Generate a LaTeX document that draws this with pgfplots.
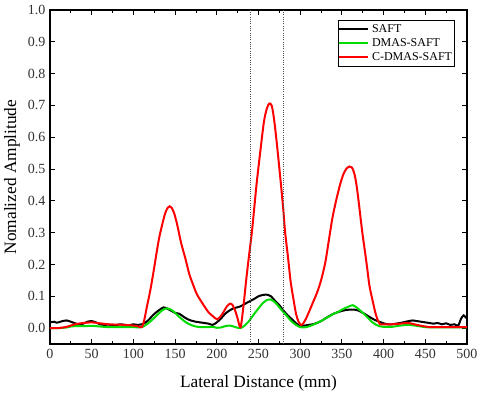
\documentclass[border=0pt]{standalone}
\usepackage{fontspec}
\setmainfont{Liberation Serif}
\usepackage{pgfplots}
\pgfplotsset{compat=1.18}
\definecolor{cgreen}{RGB}{0,220,0}
\begin{document}
\begin{tikzpicture}
\useasboundingbox (0,0) rectangle (360pt,297.75pt);
\begin{axis}[
  at={(37.5pt,39.75pt)}, anchor=south west,
  scale only axis, width=312.75pt, height=250.5pt,
  xmin=0, xmax=500, ymin=-0.05, ymax=1.0,
  xtick={0,50,...,500}, minor x tick num=1,
  ytick={0,0.1,...,1.0},
  tick align=inside, major tick length=3.5pt, minor tick length=2.2pt,
  xticklabel style={/pgf/number format/fixed},
  yticklabel style={/pgf/number format/fixed,/pgf/number format/fixed zerofill,/pgf/number format/precision=1},
  /pgf/number format/assume math mode=true,
  tick label style={font=\fontsize{10.5}{12}\selectfont, color=black!80},
  xlabel={Lateral Distance (mm)},
  ylabel={Nomalized Amplitude},
  label style={font=\fontsize{13}{15}\selectfont},
  xlabel style={at={(axis description cs:0.5,0)}, anchor=center, yshift=-29.5pt},
  ylabel style={at={(axis description cs:0,0.5)}, anchor=center, rotate=0, yshift=28.5pt},
  legend style={at={(axis description cs:1,1)}, anchor=north east, xshift=-9pt, yshift=-7.5pt,
    draw=black, font=\fontsize{9}{10}\selectfont, inner xsep=0pt, inner ysep=1pt, row sep=-1pt},
  legend cell align=left,
  legend image code/.code={\draw[#1] (0pt,0pt) -- (22pt,0pt);},
  axis line style={line width=0.8pt},
  every tick/.style={black, line width=0.6pt},
]
\addplot[black, line width=1.5pt, smooth, tension=0.4] coordinates {
(0,0.018) (5,0.02) (8,0.017) (10,0.018) (15,0.022) (20,0.024) (25,0.02) (30,0.015) (35,0.012) (40,0.014)
(45,0.02) (50,0.022) (55,0.018) (60,0.012) (65,0.01) (70,0.011) (75,0.009) (80,0.01) (85,0.012) (90,0.01)
(95,0.009) (100,0.012) (105,0.01) (110,0.012) (113,0.015) (118,0.025) (124,0.042) (130,0.055) (136,0.065) (140,0.062)
(145,0.055) (150,0.048) (155,0.045) (160,0.036) (165,0.028) (170,0.023) (175,0.02) (180,0.018) (185,0.016) (190,0.014)
(195,0.01) (200,0.018) (205,0.03) (210,0.045) (215,0.055) (220,0.062) (228,0.068) (235,0.078) (240,0.085) (245,0.092)
(250,0.1) (255,0.104) (260,0.105) (265,0.1) (270,0.085) (275,0.072) (280,0.055) (285,0.04) (290,0.028) (295,0.015)
(300,0.007) (305,0.008) (310,0.01) (315,0.012) (320,0.016) (325,0.022) (330,0.03) (335,0.038) (340,0.045) (345,0.05)
(350,0.054) (355,0.057) (360,0.058) (365,0.058) (370,0.055) (375,0.048) (380,0.04) (385,0.032) (390,0.025) (395,0.02)
(400,0.015) (405,0.012) (410,0.012) (415,0.014) (420,0.016) (425,0.019) (430,0.022) (435,0.024) (440,0.022) (445,0.02)
(450,0.018) (455,0.016) (460,0.014) (465,0.016) (470,0.012) (475,0.015) (480,0.01) (485,0.012) (488,0.008) (490,0.01)
(493,0.03) (496,0.04) (498,0.035) (500,0.03)
};
\addlegendentry{SAFT}
\addplot[cgreen, line width=1.5pt, smooth, tension=0.4] coordinates {
(0,0.0) (10,0.0) (20,0.002) (25,0.005) (30,0.006) (40,0.006) (50,0.007) (60,0.005) (70,0.003) (80,0.003)
(90,0.003) (100,0.003) (108,0.002) (112,0.005) (116,0.012) (120,0.02) (125,0.032) (130,0.045) (135,0.057) (140,0.062)
(145,0.058) (150,0.048) (155,0.035) (160,0.024) (165,0.015) (170,0.009) (175,0.005) (180,0.003) (190,0.003) (195,0.004)
(200,0.001) (205,0.002) (210,0.006) (215,0.008) (220,0.005) (225,0.001) (228,0.0) (232,0.005) (238,0.02) (245,0.045)
(250,0.062) (255,0.078) (260,0.088) (264,0.09) (268,0.085) (272,0.075) (276,0.062) (280,0.05) (285,0.035) (290,0.02)
(295,0.01) (300,0.003) (305,0.002) (310,0.005) (315,0.01) (320,0.016) (325,0.022) (330,0.03) (335,0.037) (340,0.045)
(345,0.05) (350,0.058) (355,0.064) (360,0.07) (363,0.072) (367,0.066) (370,0.06) (375,0.048) (380,0.035) (385,0.022)
(390,0.012) (395,0.006) (400,0.004) (410,0.004) (420,0.008) (430,0.01) (440,0.007) (450,0.003) (460,0.002) (500,0.002)
};
\addlegendentry{DMAS-SAFT}
\addplot[red, line width=1.5pt, smooth, tension=0.5] coordinates {
(0,0.0) (10,0.0) (20,0.004) (30,0.012) (40,0.016) (50,0.018) (60,0.015) (70,0.012) (80,0.011) (90,0.01)
(100,0.008) (105,0.006) (110,0.003) (113,0.025) (116,0.065) (120,0.115) (124,0.175) (128,0.24) (131,0.285) (134.5,0.325)
(138,0.36) (141,0.378) (143.5,0.383) (146,0.378) (149,0.36) (152.7,0.323) (157,0.27) (162.7,0.215) (167,0.17) (171.8,0.135)
(176,0.107) (181.8,0.082) (186,0.065) (190,0.05) (195,0.038) (200,0.028) (204,0.035) (208,0.05) (212,0.068) (216,0.077)
(219,0.072) (222,0.055) (225,0.03) (228.5,0.003) (232,0.07) (235,0.145) (238.5,0.225) (242,0.3) (245,0.38) (248,0.46)
(252.6,0.565) (256.6,0.65) (260,0.69) (263,0.706) (266,0.698) (269,0.65) (272.6,0.565) (276.6,0.46) (279.5,0.38) (282,0.30)
(285.5,0.22) (288.6,0.145) (292,0.09) (295,0.045) (298,0.02) (301,0.01) (303,0.012) (307,0.03) (312,0.06) (316,0.085)
(320,0.11) (325,0.15) (330,0.205) (334,0.27) (338.5,0.344) (343,0.40) (347.7,0.45) (352,0.485) (356,0.503) (359,0.508)
(362,0.505) (365,0.485) (367.5,0.45) (370,0.40) (372.5,0.344) (375,0.29) (377.7,0.24) (380.5,0.185) (383,0.134) (386.5,0.09)
(390,0.05) (393,0.025) (396,0.012) (400,0.012) (410,0.012) (420,0.014) (430,0.016) (440,0.01) (450,0.005) (460,0.003) (500,0.003)
};
\addlegendentry{C-DMAS-SAFT}
\addplot[black!70, densely dotted, line width=0.7pt, forget plot] coordinates {(240,-0.05) (240,1.0)};
\addplot[black!70, densely dotted, line width=0.7pt, forget plot] coordinates {(280,-0.05) (280,1.0)};
\end{axis}
\end{tikzpicture}
\end{document}
